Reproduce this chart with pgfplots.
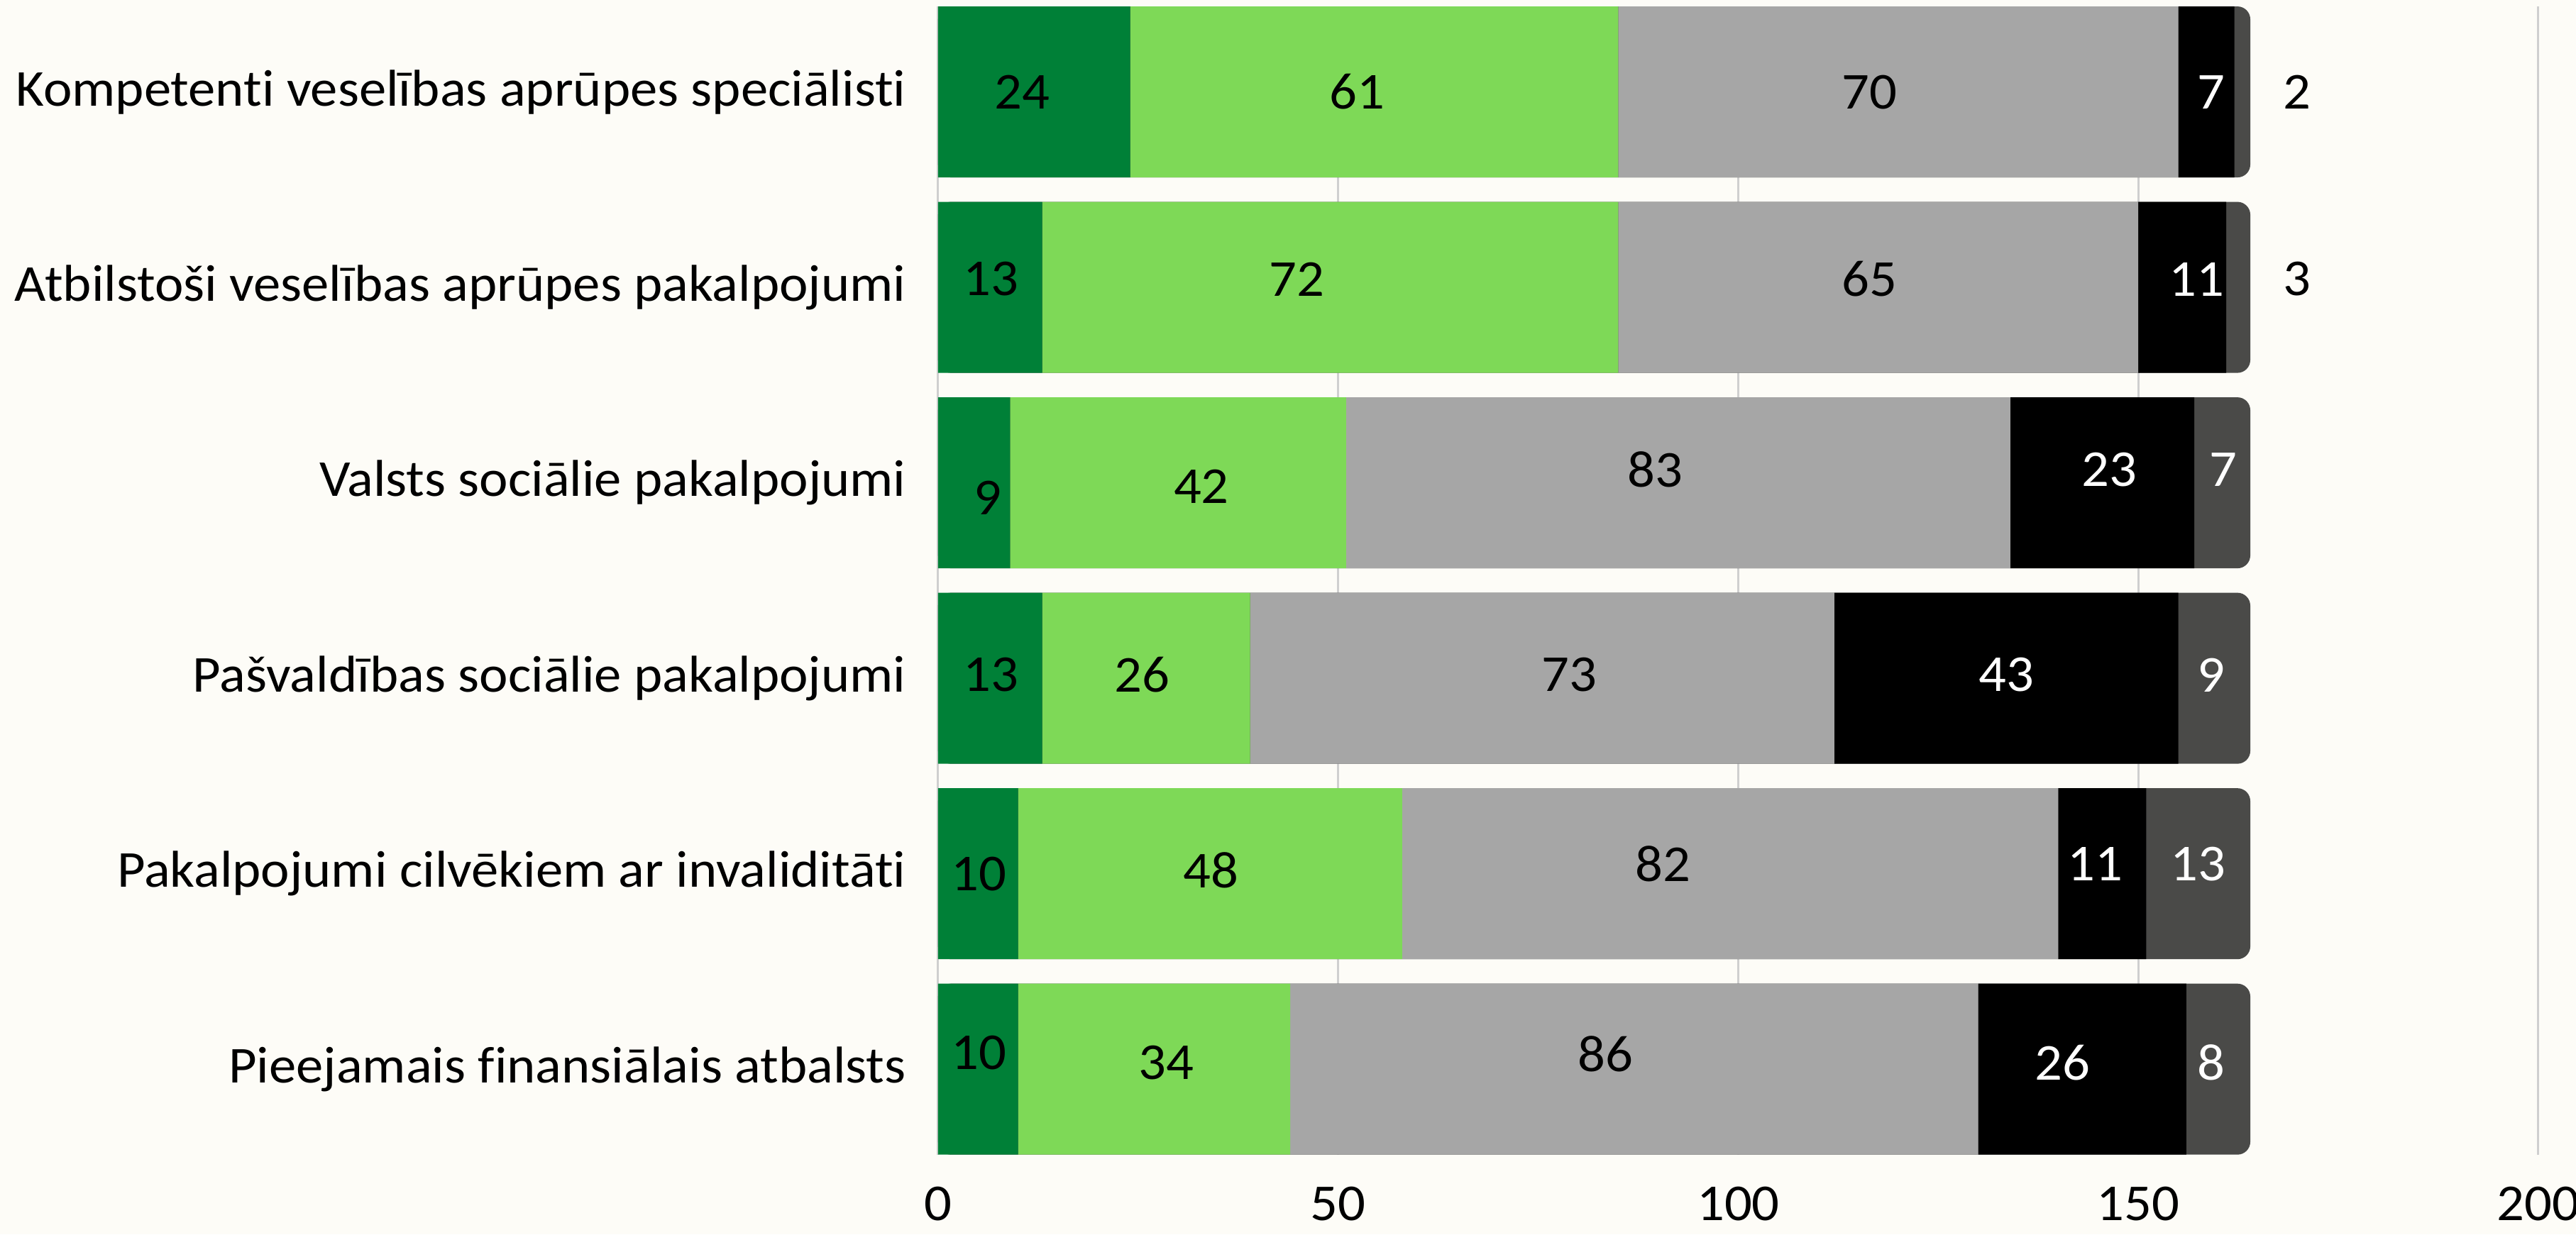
\documentclass[border=0pt]{standalone}
\usepackage{pgfplots}
\pgfplotsset{compat=1.18}
\usepackage{fontspec}
\setmainfont{Carlito}[FakeStretch=1.05, Ligatures=NoCommon]
\definecolor{bg}{HTML}{FDFCF7}
\definecolor{dgreen}{HTML}{008037}
\definecolor{lgreen}{HTML}{7ED957}
\definecolor{mgrey}{HTML}{A6A6A6}
\definecolor{dgrey}{HTML}{4A4A48}
\definecolor{gridc}{HTML}{CFCFCF}
\newcommand\lab{\fontsize{10.3}{12}\selectfont}
\pgfplotsset{base/.style={at={(0,0)}, anchor=south west, scale only axis,
  width=11.18cm, height=8.025cm, xmin=0, xmax=200, ymin=-0.4375, ymax=5.4375, y dir=reverse}}
\begin{document}
\begin{tikzpicture}
\fill[bg] (-6.554,-0.558) rectangle (11.443,8.070);
\begin{axis}[base,
  xtick={0,50,100,150,200}, ytick={0,1,2,3,4,5},
  yticklabels={Kompetenti veselības aprūpes speciālisti, Atbilstoši veselības aprūpes pakalpojumi, Valsts sociālie pakalpojumi, Pašvaldības sociālie pakalpojumi, Pakalpojumi cilvēkiem ar invaliditāti, Pieejamais finansiālais atbalsts},
  xmajorgrids, major grid style={gridc, line width=0.42pt},
  axis line style={draw=none}, major tick length=0pt,
  tick label style={font=\lab},
  xticklabel style={anchor=base, yshift=-0.459cm},
  yticklabel style={anchor=east, xshift=-0.1cm},
  /pgf/number format/assume math mode=true]
\addplot[xbar, bar width=1.195cm, bar shift=0pt, fill=dgrey, draw=none, rounded corners=0.09cm]
  coordinates {(164,0) (164,1) (164,2) (164,3) (164,4) (164,5)};
\end{axis}
\begin{axis}[base, hide axis, xbar stacked, bar width=1.195cm]
\addplot[fill=dgreen, draw=none] coordinates {(24,0) (13,1) (9,2) (13,3) (10,4) (10,5)};
\addplot[fill=lgreen, draw=none] coordinates {(61,0) (72,1) (42,2) (26,3) (48,4) (34,5)};
\addplot[fill=mgrey, draw=none] coordinates {(70,0) (65,1) (83,2) (73,3) (82,4) (86,5)};
\addplot[fill=black, draw=none] coordinates {(7,0) (11,1) (23,2) (43,3) (11,4) (26,5)};
\end{axis}
\begin{axis}[base, hide axis, clip=false]
\addplot[only marks, mark=*, mark size=0pt, mark options={draw=none,fill=none},
  nodes near coords, point meta=explicit symbolic,
  every node near coord/.append style={anchor=center, font=\lab, text=black, inner sep=0pt}]
  table[meta=l] {
x y l
10.5 0 24
52.4 0 61
116.4 0 70
169.8 0 2
6.6 0.958 13
44.8 0.958 72
116.4 0.958 65
169.8 0.958 3
6.2 2.076 9
32.9 2.017 42
89.6 1.933 83
6.6 2.983 13
25.5 2.983 26
78.9 2.983 73
5.1 4.0 10
34.1 3.983 48
90.6 3.95 82
5.1 4.916 10
28.5 4.966 34
83.4 4.924 86
};
\addplot[only marks, mark=*, mark size=0pt, mark options={draw=none,fill=none},
  nodes near coords, point meta=explicit symbolic,
  every node near coord/.append style={anchor=center, font=\lab, text=white, inner sep=0pt}]
  table[meta=l] {
x y l
159.1 0 7
157.3 0.958 11
146.4 1.933 23
160.6 1.933 7
133.5 2.983 43
159.1 2.983 9
144.6 3.95 11
157.5 3.95 13
140.5 4.966 26
159.1 4.966 8
};
\end{axis}
\pgfresetboundingbox
\useasboundingbox (-6.554,-0.558) rectangle (11.443,8.070);
\end{tikzpicture}
\end{document}
